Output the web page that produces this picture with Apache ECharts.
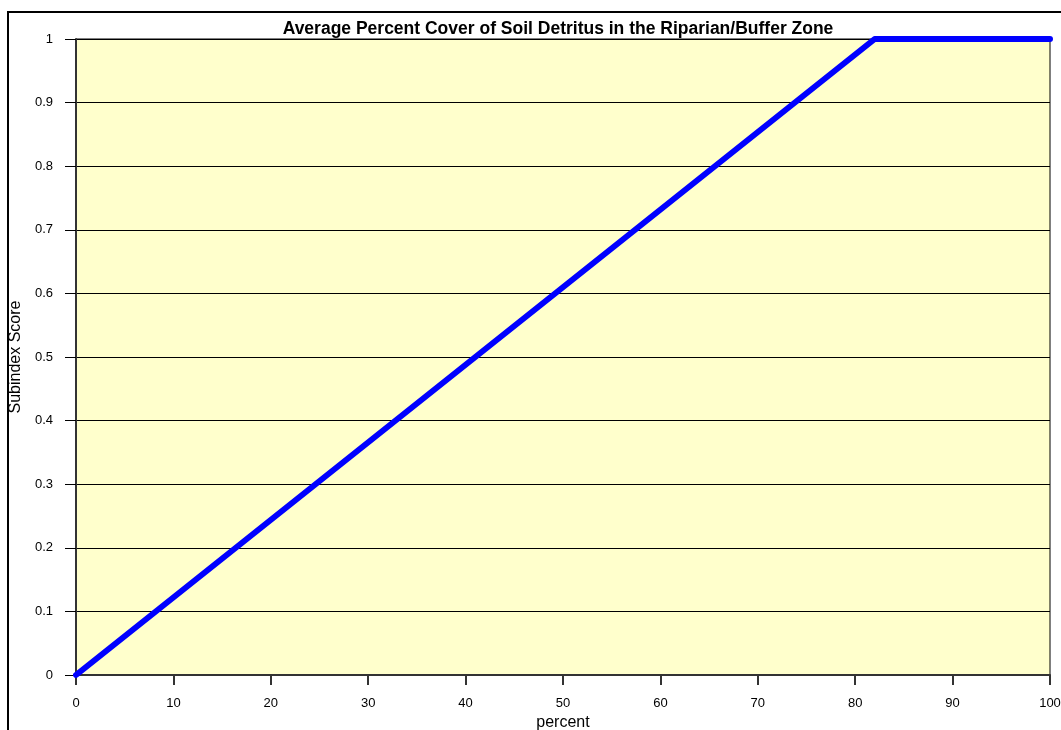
<!DOCTYPE html>
<html>
<head>
<meta charset="utf-8">
<script src="https://cdn.jsdelivr.net/npm/echarts@6/dist/echarts.min.js"></script>
<style>
html,body{margin:0;padding:0;background:#fff;}
#main{width:1061px;height:730px;}
</style>
</head>
<body>
<div id="main"></div>
<script>
var titleText = 'Average Percent Cover of Soil Detritus in the Riparian/Buffer Zone';
var xAxisName = 'percent';
var yAxisName = 'Subindex Score';
var xValues = [0, 82, 100];
var yValues = [0, 1, 1];

var chart = echarts.init(document.getElementById('main'));
var font = '"Liberation Sans", Arial, sans-serif';
chart.setOption({
  animation: false,
  backgroundColor: '#fff',
  title: {
    text: titleText,
    left: 558,
    top: 20,
    padding: 0,
    textAlign: 'center',
    textStyle: {fontFamily: font, fontSize: 17.5, fontWeight: 'bold', color: '#000'}
  },
  graphic: [{
    type: 'rect',
    z: -10,
    shape: {x: 8, y: 12, width: 1200, height: 900},
    style: {fill: 'none', stroke: '#000', lineWidth: 2}
  }],
  grid: {
    left: 76, right: 11, top: 39, bottom: 55,
    outerBoundsMode: 'none',
    containLabel: false,
    show: true, backgroundColor: '#FFFFCC', borderColor: '#000', borderWidth: 1
  },
  xAxis: {
    type: 'value', min: 0, max: 100, interval: 10,
    name: xAxisName, nameLocation: 'middle', nameGap: 39,
    nameTextStyle: {fontFamily: font, fontSize: 16, color: '#000'},
    axisLine: {show: true, lineStyle: {color: '#333', width: 2}},
    axisTick: {show: true, length: 10, lineStyle: {color: '#333', width: 2}},
    axisLabel: {fontFamily: font, fontSize: 13, color: '#000', margin: 22},
    splitLine: {show: false}
  },
  yAxis: {
    type: 'value', min: 0, max: 1, interval: 0.1,
    name: yAxisName, nameLocation: 'middle', nameGap: 50,
    nameTextStyle: {fontFamily: font, fontSize: 16, color: '#000'},
    axisLine: {show: true, lineStyle: {color: '#333', width: 2}},
    axisTick: {show: true, length: 11, lineStyle: {color: '#000', width: 1}},
    axisLabel: {fontFamily: font, fontSize: 13, color: '#000', margin: 23,
      formatter: function (v) { return String(Math.round(v * 10) / 10); }},
    splitLine: {show: true, lineStyle: {color: '#000', width: 1}}
  },
  series: [{
    type: 'line',
    data: xValues.map(function (x, i) { return [x, yValues[i]]; }),
    showSymbol: false,
    symbol: 'none',
    clip: false,
    lineStyle: {color: '#0000FF', width: 6, cap: 'round', join: 'round'}
  }]
});
</script>
</body>
</html>
